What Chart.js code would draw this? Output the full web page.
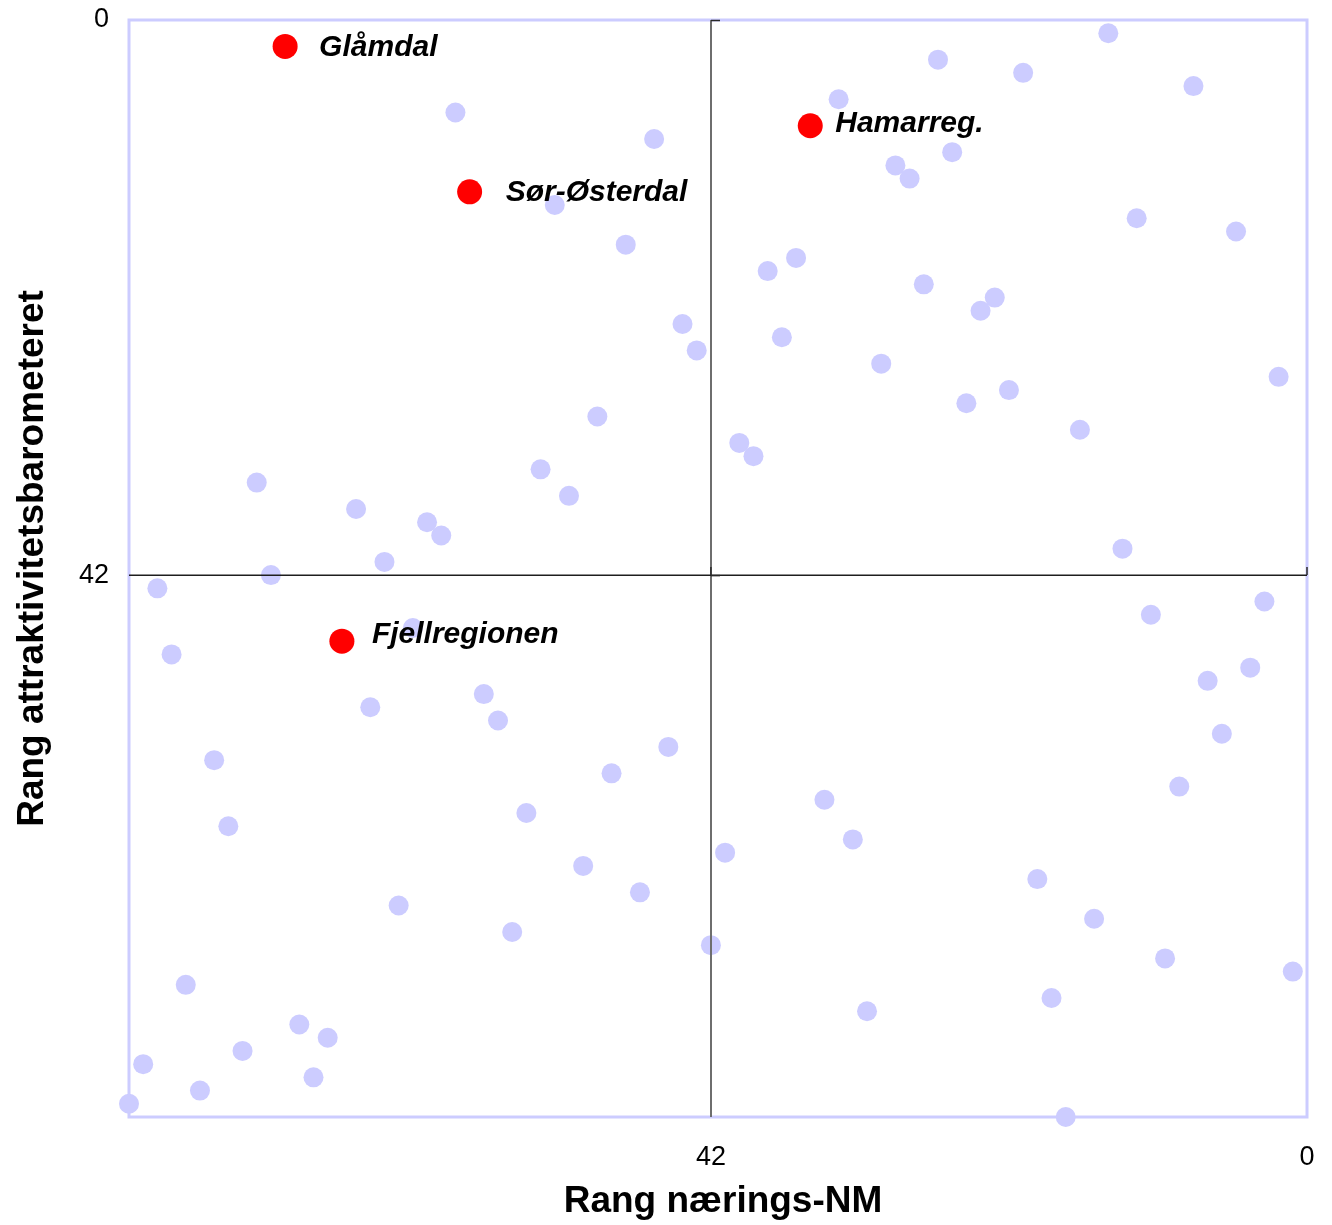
<!DOCTYPE html>
<html>
<head>
<meta charset="utf-8">
<script src="https://cdn.jsdelivr.net/npm/chart.js@4.4.0/dist/chart.umd.min.js"></script>
<style>
  html, body { margin: 0; padding: 0; background: #ffffff; }
  #wrap { width: 1332px; height: 1225px; position: relative; }
</style>
</head>
<body>
<div id="wrap"><canvas id="c" width="1332" height="1225"></canvas></div>
<script>
// ---- Data ----
const xAxisTitle = "Rang nærings-NM";
const yAxisTitle = "Rang attraktivitetsbarometeret";
const tickValues = [0, 42];
const axisMin = 0;
const axisMax = 83;
const midValue = 42;

// Highlighted regions (rank næringsNM, rank attraktivitet)
const highlightNames = ["Glåmdal", "Hamarreg.", "Sør-Østerdal", "Fjellregionen"];
const highlightX = [72, 35, 59, 68];
const highlightY = [2, 8, 13, 47];

// Other regions
const otherX = [14, 26, 20, 8, 33, 60, 46, 25, 29, 28,
                53, 12, 5, 48, 36, 38, 27, 22, 23, 44,
                37, 43, 30, 2, 21, 24, 50, 16, 40, 39,
                54, 74, 52, 67, 62, 61, 13, 65, 73, 81,
                3, 11, 63, 80, 4, 7, 58, 66, 57, 6,
                45, 77, 49, 9, 34, 55, 76, 32, 41, 51,
                19, 47, 64, 15, 56, 42, 10, 1, 79, 18,
                31, 71, 69, 75, 82, 70, 78, 83, 17];
const otherY = [1, 3, 4, 5, 6, 7, 9, 10, 11, 12,
                14, 15, 16, 17, 18, 19, 20, 21, 22, 23,
                24, 25, 26, 27, 28, 29, 30, 31, 32, 33,
                34, 35, 36, 37, 38, 39, 40, 41, 42, 43,
                44, 45, 46, 48, 49, 50, 51, 52, 53, 54,
                55, 56, 57, 58, 59, 60, 61, 62, 63, 64,
                65, 66, 67, 68, 69, 70, 71, 72, 73, 74,
                75, 76, 77, 78, 79, 80, 81, 82, 83];

// ---- Styles ----
const labelDx = [34, 25, 36, 30];
const labelDy = [1, -2, 1, -6];
const FONT = '"Liberation Sans", Arial, Helvetica, sans-serif';
const TITLE_FONT = 'bold 37px ' + FONT;

const otherPoints = otherX.map((v, i) => ({ x: v, y: otherY[i] }));
const highlightPoints = highlightX.map((v, i) => ({ x: v, y: highlightY[i] }));

const overlay = {
  id: 'overlay',
  beforeDatasetsDraw(chart) {
    const { ctx, chartArea: a } = chart;
    ctx.save();
    ctx.strokeStyle = '#ccccff';
    ctx.lineWidth = 3;
    ctx.strokeRect(a.left, a.top, a.right - a.left, a.bottom - a.top);
    ctx.restore();
  },
  afterDatasetsDraw(chart) {
    const { ctx, chartArea: a, scales } = chart;
    const xs = scales.x, ys = scales.y;
    const cx = Math.round(xs.getPixelForValue(midValue));
    const cy = Math.round(ys.getPixelForValue(midValue));
    ctx.save();
    // vertical axis line (at x = 42)
    ctx.strokeStyle = '#6e6e6e';
    ctx.lineWidth = 2;
    ctx.beginPath(); ctx.moveTo(cx, a.top); ctx.lineTo(cx, a.bottom); ctx.stroke();
    // horizontal axis line (at y = 42)
    ctx.strokeStyle = '#1e1e1e';
    ctx.lineWidth = 1.5;
    ctx.beginPath(); ctx.moveTo(a.left, cy + 0.25); ctx.lineTo(a.right, cy + 0.25); ctx.stroke();
    // tick marks
    ctx.strokeStyle = '#2a2a2a';
    ctx.lineWidth = 1.5;
    tickValues.forEach(v => {
      const py = ys.getPixelForValue(v);
      ctx.beginPath(); ctx.moveTo(cx, py + 0.5); ctx.lineTo(cx + 9, py + 0.5); ctx.stroke();
      const px = xs.getPixelForValue(v);
      ctx.beginPath(); ctx.moveTo(px, cy); ctx.lineTo(px, cy - 8); ctx.stroke();
    });
    // labels of highlighted points
    ctx.fillStyle = '#000000';
    ctx.font = 'italic bold 30px ' + FONT;
    ctx.textAlign = 'left';
    ctx.textBaseline = 'middle';
    const meta = chart.getDatasetMeta(0);
    meta.data.forEach((el, i) => {
      ctx.fillText(highlightNames[i], el.x + labelDx[i], el.y + labelDy[i]);
    });
    ctx.restore();
  },
  afterDraw(chart) {
    // axis titles
    const { ctx, chartArea: a } = chart;
    ctx.save();
    ctx.fillStyle = '#000000';
    ctx.font = TITLE_FONT;
    ctx.textAlign = 'center';
    ctx.textBaseline = 'middle';
    ctx.fillText(xAxisTitle, (a.left + a.right) / 2 + 5, 1202);
    ctx.translate(33, (a.top + a.bottom) / 2 - 10);
    ctx.rotate(-Math.PI / 2);
    ctx.fillText(yAxisTitle, 0, 0);
    ctx.restore();
  }
};

const fixTicks = (scale) => {
  scale.ticks = tickValues.map(v => ({ value: v }));
};

new Chart(document.getElementById('c'), {
  type: 'scatter',
  data: {
    datasets: [
      {
        label: 'Utvalgte regioner',
        data: highlightPoints,
        backgroundColor: '#ff0000',
        borderWidth: 0,
        pointRadius: 12.5,
        pointHoverRadius: 12.5,
        clip: false,
        order: 0
      },
      {
        label: 'Regioner',
        data: otherPoints,
        backgroundColor: '#ccccff',
        borderWidth: 0,
        pointRadius: 10,
        pointHoverRadius: 10,
        clip: false,
        order: 1
      }
    ]
  },
  options: {
    responsive: false,
    animation: false,
    events: [],
    layout: { padding: { top: 20, right: 25, left: 0, bottom: 0 } },
    plugins: { legend: { display: false }, tooltip: { enabled: false } },
    scales: {
      x: {
        type: 'linear',
        position: 'bottom',
        reverse: true,
        min: axisMin,
        max: axisMax,
        afterBuildTicks: fixTicks,
        afterFit: (s) => { s.height = 108; s.paddingLeft = 0; s.paddingRight = 0; },
        grid: { display: false, drawTicks: false },
        border: { display: false },
        ticks: {
          autoSkip: false, maxRotation: 0, padding: 24,
          color: '#000000',
          font: { family: FONT, size: 27 }
        },
        title: { display: false, text: xAxisTitle }
      },
      y: {
        type: 'linear',
        position: 'left',
        reverse: true,
        min: axisMin,
        max: axisMax,
        afterBuildTicks: fixTicks,
        afterFit: (s) => { s.width = 129; s.paddingTop = 0; s.paddingBottom = 0; },
        grid: { display: false, drawTicks: false },
        border: { display: false },
        ticks: {
          autoSkip: false, padding: 20,
          color: '#000000',
          font: { family: FONT, size: 27 }
        },
        title: { display: false, text: yAxisTitle }
      }
    }
  },
  plugins: [overlay]
});
</script>
</body>
</html>
